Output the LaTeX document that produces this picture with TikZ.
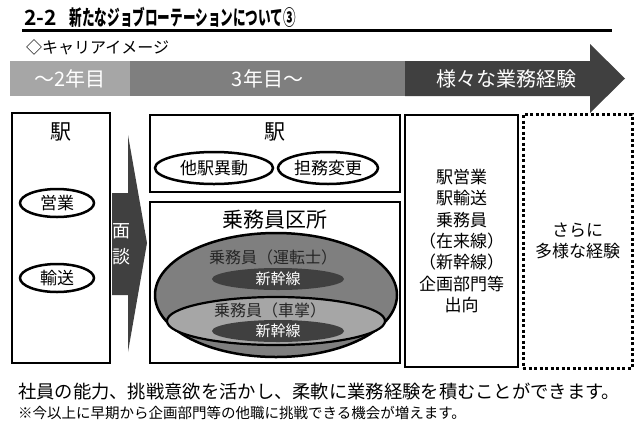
\documentclass[tikz,border=0pt]{standalone}
\usepackage{fontspec}
\setmainfont{Noto Sans CJK JP}[BoldFont={Noto Sans CJK JP Bold}]
\newfontfamily\titlefont{Noto Sans CJK JP Bold}[FakeStretch=0.6]
\usetikzlibrary{positioning,calc,shapes}
\definecolor{lightband}{HTML}{A6A6A6}
\definecolor{midband}{HTML}{7F7F7F}
\definecolor{darkband}{HTML}{404040}
\newcommand{\fs}[1]{\fontsize{#1}{#1}\selectfont}

\begin{document}
\begin{tikzpicture}[x=1pt,y=-1pt, line join=miter,
  band/.style={fill=#1, inner sep=0, minimum height=35pt, text=white, font=\fs{20}},
  box/.style={draw, line width=2.8pt, inner sep=0},
  oval/.style={ellipse, draw, line width=2.5pt, inner sep=0, font=\fs{17}},
  core/.style={ellipse, fill=darkband, inner sep=0, minimum width=132pt, minimum height=22pt, text=white, font=\fs{15}}]
\useasboundingbox (0,0) rectangle (640,432);
\node[anchor=base west, inner sep=0, font=\fs{21}\bfseries] (title) at (24,25) {2-2\hspace{13pt}\titlefont 新たなジョブローテーションについて③};
\draw[line width=3pt] (22,30) -- (612,30);
\node[anchor=base west, inner sep=0, font=\fs{16}] (image) at (26,53) {◇キャリアイメージ};
\node[band=lightband, minimum width=120pt] (yr2) at (70,78.5) {～2年目};
\node[band=midband, minimum width=275pt] (yr3) at (267.5,78.5) {3年目～};
\fill[darkband] (405,61) -- (590,61) -- (590,44) -- (625,78.5) -- (590,113) -- (590,96) -- (405,96) -- cycle;
\node[text=white, font=\fs{20}] (various) at (506,78.5) {様々な業務経験};

\node[box, minimum width=98pt, minimum height=250pt] (stn) at (61,238) {};
\node[below=8pt of stn.north, font=\fs{21}] (stnlbl) {駅};
\node[oval, minimum width=74pt, minimum height=28pt] (sales) at (57,203) {営業};
\node[oval, minimum width=74pt, minimum height=28pt] (trans) at (57,278) {輸送};

\fill[darkband] (112,193) -- (128,193) -- (128,135) -- (147,243) -- (128,352) -- (128,295) -- (112,295) -- cycle;
\node[text=white, font=\fs{18}] (men) at (121,231) {面};
\node[text=white, font=\fs{18}] (dan) at (121,257) {談};

\node[box, minimum width=250pt, minimum height=77pt] (stn2) at (275,153.5) {};
\node[below=6pt of stn2.north, font=\fs{21}] (stn2lbl) {駅};
\node[oval, minimum width=118pt, minimum height=32pt] (move) at (214,168) {他駅異動};
\node[oval, minimum width=100pt, minimum height=32pt] (duty) at (328,168) {担務変更};

\node[box, minimum width=250pt, minimum height=161pt] (crew) at (275,282.5) {};
\node[below=6pt of crew.north, font=\fs{21}] (crewlbl) {乗務員区所};
\node[ellipse, draw, line width=2.5pt, fill=midband, minimum width=242pt, minimum height=124pt] (driver) at (276,295) {};
\node[text=black!85, font=\fs{16}] (driverlbl) at (273,257) {乗務員（運転士）};
\node[core] (shin1) at (278,279) {新幹線};
\node[ellipse, draw, line width=2.2pt, fill=lightband, minimum width=218pt, minimum height=48pt] (cond) at (276,321) {};
\node[text=black!85, font=\fs{16}] (condlbl) at (270,310) {乗務員（車掌）};
\node[core] (shin2) at (278,331) {新幹線};

\node[box, minimum width=113pt, minimum height=252pt] (career) at (461.5,241) {};
\node[align=center, font=\fontsize{17}{21.3}\selectfont] (careerlbl) at (career.center) {駅営業\\駅輸送\\乗務員\\（在来線）\\（新幹線）\\企画部門等\\出向};
\node[draw, line width=3pt, dash pattern=on 3pt off 2.5pt, inner sep=0, minimum width=109pt, minimum height=254pt] (more) at (577.5,241) {};
\node[align=center, font=\fontsize{17}{21}\selectfont] (morelbl) at (more.center) {さらに\\多様な経験};

\node[anchor=base west, inner sep=0, font=\fs{18.3}] (note1) at (18,398) {社員の能力、挑戦意欲を活かし、柔軟に業務経験を積むことができます。};
\node[anchor=base west, inner sep=0, font=\fs{14.5}] (note2) at (18,418) {※今以上に早期から企画部門等の他職に挑戦できる機会が増えます。};
\end{tikzpicture}
\end{document}
